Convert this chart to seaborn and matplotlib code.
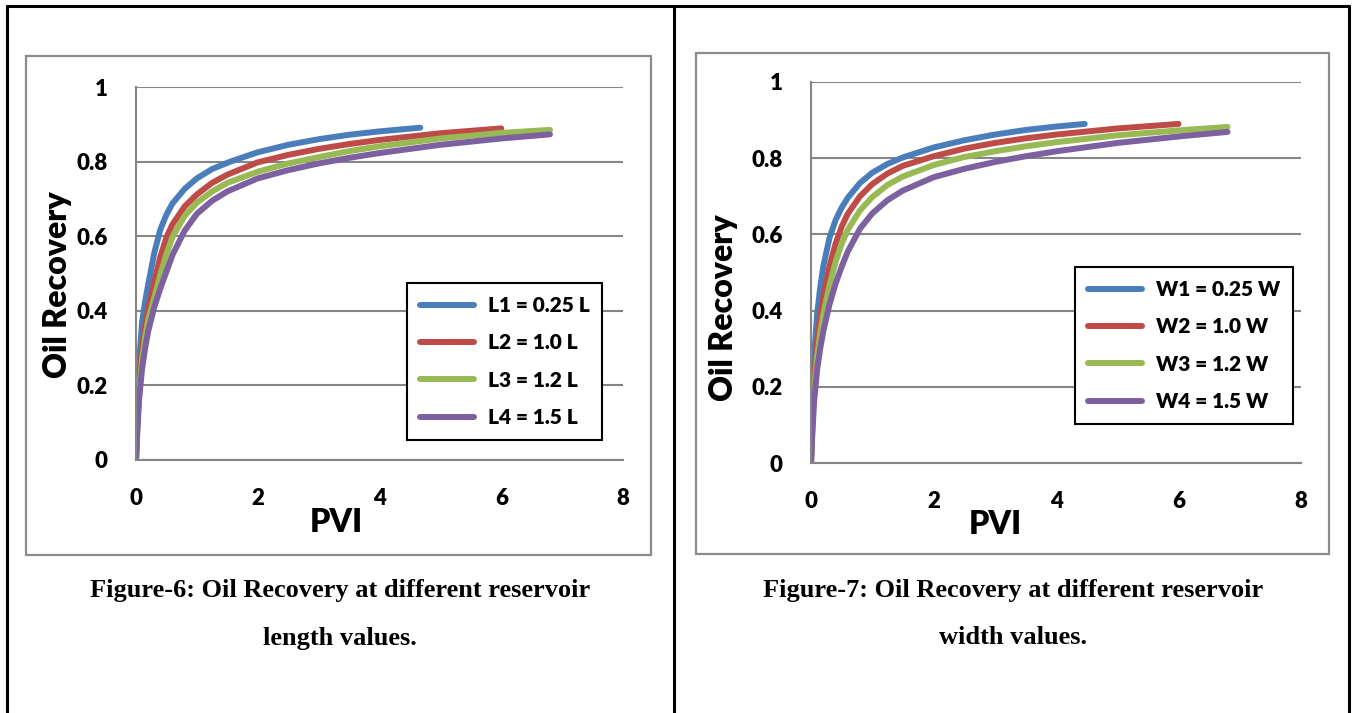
import numpy as np
import pandas as pd
import matplotlib
matplotlib.use("Agg")
import matplotlib.pyplot as plt
import seaborn as sns
from matplotlib.patches import Rectangle
from matplotlib.lines import Line2D

# ---------------- data ----------------
pvi_grid = [0, 0.02, 0.05, 0.1, 0.15, 0.2, 0.3, 0.4, 0.5, 0.6, 0.8, 1.0, 1.25, 1.5,
            2.0, 2.5, 3.0, 3.5, 4.0, 5.0, 6.0, 6.8]

# Figure 6 (reservoir length)
pvi_L1 = [0, 0.02, 0.05, 0.1, 0.15, 0.2, 0.3, 0.4, 0.5, 0.6, 0.8, 1.0, 1.25, 1.55, 2.0, 2.5, 3.0, 3.5, 4.0, 4.67]
rec_L1 = [0, 0.12, 0.26, 0.37, 0.425, 0.47, 0.555, 0.618, 0.658, 0.688, 0.727, 0.755, 0.78, 0.80, 0.825, 0.845, 0.86, 0.872, 0.881, 0.891]
pvi_L2 = [0, 0.02, 0.05, 0.1, 0.15, 0.2, 0.3, 0.4, 0.5, 0.6, 0.8, 1.0, 1.25, 1.5, 2.0, 2.5, 3.0, 3.5, 4.0, 5.0, 6.0]
rec_L2 = [0, 0.09, 0.20, 0.30, 0.36, 0.405, 0.478, 0.545, 0.597, 0.632, 0.68, 0.712, 0.743, 0.765, 0.798, 0.818, 0.834, 0.847, 0.858, 0.876, 0.889]
pvi_L3 = pvi_grid
rec_L3 = [0, 0.08, 0.18, 0.27, 0.33, 0.375, 0.435, 0.497, 0.552, 0.598, 0.655, 0.69, 0.72, 0.743, 0.773, 0.795, 0.812, 0.828, 0.841, 0.862, 0.877, 0.885]
pvi_L4 = pvi_grid
rec_L4 = [0, 0.07, 0.16, 0.245, 0.30, 0.345, 0.41, 0.46, 0.505, 0.55, 0.615, 0.66, 0.695, 0.72, 0.755, 0.777, 0.795, 0.81, 0.823, 0.845, 0.862, 0.873]

# Figure 7 (reservoir width)
pvi_W1 = [0, 0.02, 0.05, 0.1, 0.15, 0.2, 0.3, 0.4, 0.5, 0.6, 0.8, 1.0, 1.25, 1.5, 2.0, 2.5, 3.0, 3.5, 4.0, 4.47]
rec_W1 = [0, 0.13, 0.28, 0.39, 0.46, 0.515, 0.59, 0.637, 0.67, 0.696, 0.735, 0.762, 0.785, 0.802, 0.828, 0.847, 0.862, 0.874, 0.883, 0.89]
pvi_W2 = [0, 0.02, 0.05, 0.1, 0.15, 0.2, 0.3, 0.4, 0.5, 0.6, 0.8, 1.0, 1.25, 1.5, 2.0, 2.5, 3.0, 3.5, 4.0, 5.0, 6.0]
rec_W2 = [0, 0.10, 0.22, 0.32, 0.385, 0.435, 0.515, 0.575, 0.62, 0.654, 0.70, 0.732, 0.76, 0.78, 0.805, 0.825, 0.84, 0.852, 0.862, 0.878, 0.89]
pvi_W3 = pvi_grid
rec_W3 = [0, 0.085, 0.19, 0.28, 0.34, 0.39, 0.465, 0.527, 0.575, 0.612, 0.663, 0.698, 0.73, 0.752, 0.782, 0.803, 0.818, 0.831, 0.842, 0.86, 0.873, 0.882]
pvi_W4 = pvi_grid
rec_W4 = [0, 0.07, 0.16, 0.245, 0.30, 0.345, 0.415, 0.47, 0.515, 0.555, 0.615, 0.655, 0.69, 0.715, 0.75, 0.772, 0.79, 0.805, 0.818, 0.84, 0.857, 0.869]

labels_L = ["L1 = 0.25 L", "L2 = 1.0 L", "L3 = 1.2 L", "L4 = 1.5 L"]
labels_W = ["W1 = 0.25 W", "W2 = 1.0 W", "W3 = 1.2 W", "W4 = 1.5 W"]
colors = ["#4A7EBB", "#BE4B48", "#98B954", "#7D60A0"]

x_ticks = [0, 2, 4, 6, 8]
y_ticks = [0, 0.2, 0.4, 0.6, 0.8, 1.0]
y_ticklabels = ["0", "0.2", "0.4", "0.6", "0.8", "1"]
x_title = "PVI"
y_title = "Oil Recovery"

captions = [["Figure-6: Oil Recovery at different reservoir", "length values."],
            ["Figure-7: Oil Recovery at different reservoir", "width values."]]


def long_df(pvis, recs, labels):
    frames = []
    for p, r, lab in zip(pvis, recs, labels):
        frames.append(pd.DataFrame({"PVI": p, "Recovery": r, "series": lab}))
    return pd.concat(frames, ignore_index=True)


df_L = long_df([pvi_L1, pvi_L2, pvi_L3, pvi_L4], [rec_L1, rec_L2, rec_L3, rec_L4], labels_L)
df_W = long_df([pvi_W1, pvi_W2, pvi_W3, pvi_W4], [rec_W1, rec_W2, rec_W3, rec_W4], labels_W)

# ---------------- figure ----------------
sns.set_theme(style="white")
SANS = ["Lato", "DejaVu Sans"]
plt.rcParams["font.family"] = SANS
plt.rcParams["text.color"] = "black"
WEIGHT = "heavy"

W, H = 1353, 713
fig = plt.figure(figsize=(W / 100, H / 100), dpi=100)
fig.patch.set_facecolor("white")


def fx(px):
    return px / W


def fy(py):
    return 1 - py / H


# outer table lines
tbl = dict(color="black", lw=2.2, transform=fig.transFigure)
fig.add_artist(Line2D([fx(7), fx(1349)], [fy(6), fy(6)], **tbl))
fig.add_artist(Line2D([fx(7), fx(7)], [fy(6), fy(713)], **tbl))
fig.add_artist(Line2D([fx(674), fx(674)], [fy(6), fy(713)], **tbl))
fig.add_artist(Line2D([fx(1349), fx(1349)], [fy(6), fy(713)], **tbl))

# chart boxes
boxes = [(26, 56, 651, 555), (696, 53, 1329, 554)]
for (l, t, r, b) in boxes:
    fig.add_artist(Rectangle((fx(l), fy(b)), fx(r) - fx(l), fy(t) - fy(b),
                             transform=fig.transFigure, fill=False,
                             edgecolor="#8C8C8C", lw=1.6))

# axes positions (px): x0, x8, y1, y0
plots = [(136, 623, 87, 460), (811, 1301, 82, 463)]
legend_pos = [(407, 283), (1075, 267)]
caption_x = [340, 1013]
xtitle_pos = [(336, 522), (995, 524)]
ytitle_pos = [(57, 285), (723, 308)]
dfs = [df_L, df_W]
label_sets = [labels_L, labels_W]

grid_col = "#868686"
for i in range(2):
    x0, x8, y1, y0 = plots[i]
    ax = fig.add_axes([fx(x0), fy(y0), fx(x8) - fx(x0), fy(y1) - fy(y0)])
    sns.lineplot(data=dfs[i], x="PVI", y="Recovery", hue="series",
                 palette=colors, hue_order=label_sets[i], sort=False,
                 estimator=None, linewidth=4.3, ax=ax, legend=False)
    for ln in ax.lines:
        ln.set_solid_capstyle("round")
        ln.set_solid_joinstyle("round")
    ax.set_xlim(0, 8)
    ax.set_ylim(0, 1)
    ax.set_xticks(x_ticks)
    ax.set_xticklabels([str(t) for t in x_ticks])
    ax.set_yticks(y_ticks)
    ax.set_yticklabels(y_ticklabels)
    ax.set_xlabel("")
    ax.set_ylabel("")
    ax.set_facecolor("none")
    for s in ["top", "right"]:
        ax.spines[s].set_visible(False)
    for s in ["left", "bottom"]:
        ax.spines[s].set_color(grid_col)
        ax.spines[s].set_linewidth(1.5)
    ax.yaxis.grid(True, color=grid_col, lw=1.5)
    ax.xaxis.grid(False)
    ax.tick_params(axis="both", which="major", direction="out", length=6.5,
                   width=1.5, color=grid_col, labelsize=16, labelcolor="black")
    ax.tick_params(axis="x", pad=14)
    ax.tick_params(axis="y", pad=14)
    for lab in ax.get_xticklabels() + ax.get_yticklabels():
        lab.set_fontweight(WEIGHT)

    fig.text(fx(xtitle_pos[i][0]), fy(xtitle_pos[i][1]), x_title, ha="center", va="center",
             fontsize=23, fontweight=WEIGHT, color="black")
    fig.text(fx(ytitle_pos[i][0]), fy(ytitle_pos[i][1]), y_title, ha="center", va="center",
             rotation=90, fontsize=23, fontweight=WEIGHT, color="black")

    handles = [Line2D([], [], color=c, lw=4.3, solid_capstyle="round") for c in colors]
    lx, ly = legend_pos[i]
    leg = ax.legend(handles, label_sets[i], loc="upper left",
                    bbox_to_anchor=(fx(lx), fy(ly)), bbox_transform=fig.transFigure,
                    borderaxespad=0, frameon=True, fancybox=False,
                    prop={"family": SANS, "weight": WEIGHT, "size": 15},
                    handlelength=2.6, handletextpad=0.65, labelspacing=0.88,
                    borderpad=0.62)
    leg.get_frame().set_edgecolor("black")
    leg.get_frame().set_linewidth(1.5)
    leg.get_frame().set_alpha(1)
    for t in leg.get_texts():
        t.set_color("black")

    for line_txt, ypx in zip(captions[i], [590, 638]):
        fig.text(fx(caption_x[i]), fy(ypx), line_txt, ha="center", va="center",
                 family=["Liberation Serif", "DejaVu Serif"], fontweight="bold",
                 fontsize=19, color="black")

fig.savefig("out.png", dpi=100)
